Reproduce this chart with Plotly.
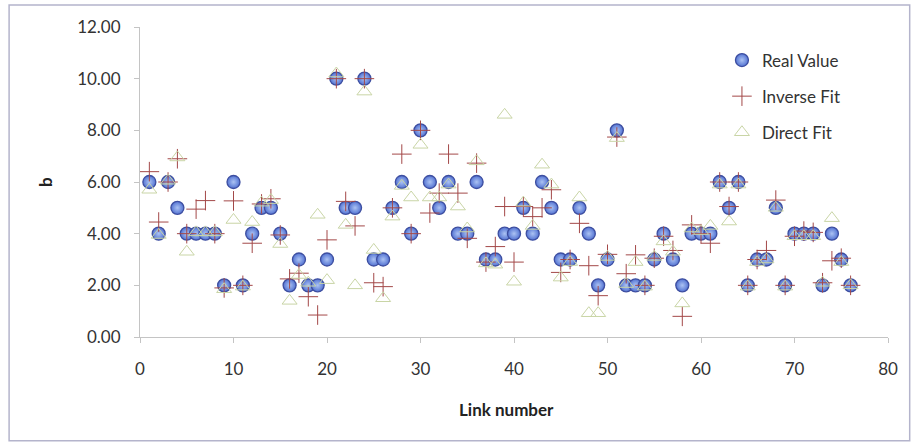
import plotly.graph_objects as go

link = list(range(1, 77))

real_value = [6, 4, 6, 5, 4, 4, 4, 4, 2, 6,
              2, 4, 5, 5, 4, 2, 3, 2, 2, 3,
              10, 5, 5, 10, 3, 3, 5, 6, 4, 8,
              6, 5, 6, 4, 4, 6, 3, 3, 4, 4,
              5, 4, 6, 5, 3, 3, 5, 4, 2, 3,
              8, 2, 2, 2, 3, 4, 3, 2, 4, 4,
              4, 6, 5, 6, 2, 3, 3, 5, 2, 4,
              4, 4, 2, 4, 3, 2]

inverse_fit = [6.4, 4.45, 6.0, 6.9, 4.0, 4.95, 5.28, 4.0, 1.9, 5.27,
               2.0, 3.63, 5.15, 5.35, 3.95, 2.25, 2.47, 1.56, 0.85, 3.76,
               10.0, 5.25, 4.3, 10.0, 2.1, 1.95, 5.0, 7.08, 4.0, 8.0,
               4.8, 5.57, 7.08, 5.57, 3.82, 6.73, 2.9, 3.5, 5.05, 2.9,
               5.05, 4.66, 5.0, 5.7, 2.5, 3.0, 4.4, 2.76, 1.6, 3.2,
               7.74, 2.45, 3.18, 2.0, 3.05, 3.9, 3.35, 0.8, 4.34, 4.0,
               3.63, 6.0, 5.05, 6.0, 2.0, 3.0, 3.35, 5.3, 2.0, 3.9,
               4.1, 4.05, 2.1, 2.95, 3.05, 2.0]

direct_fit = [5.7, 3.95, 6.05, 6.95, 3.3, 4.05, 4.05, 4.05, 1.85, 4.53,
              1.95, 4.45, 5.2, 5.3, 3.6, 1.4, 2.4, 2.1, 4.73, 2.2,
              10.2, 4.34, 2.0, 9.5, 3.37, 1.5, 4.66, 5.85, 5.4, 7.44,
              5.4, 5.4, 5.9, 5.05, 4.2, 6.8, 2.85, 2.8, 8.6, 2.14,
              5.2, 4.3, 6.67, 5.9, 2.3, 2.9, 5.4, 0.92, 0.92, 3.1,
              7.7, 2.05, 2.9, 1.95, 3.1, 3.7, 3.3, 1.3, 4.2, 4.1,
              4.3, 5.9, 4.47, 5.9, 1.95, 2.9, 3.0, 5.0, 1.95, 3.9,
              3.9, 3.9, 2.1, 4.6, 2.9, 2.0]

x_ticks = [0, 10, 20, 30, 40, 50, 60, 70, 80]
y_ticks = [0, 2, 4, 6, 8, 10, 12]

FONT = "Lato, 'Open Sans', sans-serif"

fig = go.Figure()
fig.add_trace(go.Scatter(
    x=link, y=real_value, mode="markers", name="Real Value",
    legendgroup="a",
    marker=dict(symbol="circle", size=13, color="#5272d2",
                gradient=dict(type="radial", color="#acc3f3"),
                line=dict(color="#3d4ea0", width=1.3))))
fig.add_trace(go.Scatter(
    x=link, y=inverse_fit, mode="markers", name="Inverse Fit",
    legendgroup="b",
    marker=dict(symbol="cross-thin", size=14,
                line=dict(color="#a34848", width=1.0))))
fig.add_trace(go.Scatter(
    x=link, y=direct_fit, mode="markers", name="Direct Fit",
    legendgroup="c",
    marker=dict(symbol="triangle-up-open", size=13, color="#c9d5a6",
                line=dict(color="#c9d5a6", width=1.0))))

fig.update_layout(
    width=913, height=446,
    margin=dict(l=140, r=25, t=27, b=109),
    paper_bgcolor="white", plot_bgcolor="white",
    font=dict(family=FONT, size=17, color="#333333"),
    showlegend=True,
    legend=dict(x=0.778, y=0.95, xanchor="left", yanchor="top",
                bgcolor="rgba(0,0,0,0)", tracegroupgap=11,
                traceorder="grouped",
                font=dict(family=FONT, size=17, color="#333333")),
    xaxis=dict(range=[0, 80], tickvals=x_ticks, ticktext=[str(v) for v in x_ticks],
               showgrid=False, zeroline=False, showline=True,
               linecolor="#c4c4c4", linewidth=1, ticks="outside", ticklen=5,
               tickcolor="#c4c4c4", ticklabelstandoff=12),
    yaxis=dict(range=[0, 12], tickvals=y_ticks,
               ticktext=["%.2f" % v for v in y_ticks],
               showgrid=False, zeroline=False, showline=True,
               linecolor="#c4c4c4", linewidth=1, ticks="outside", ticklen=5,
               tickcolor="#c4c4c4", ticklabelstandoff=10),
    annotations=[
        dict(text="<b>b</b>", xref="paper", yref="paper", x=-0.127, y=0.5,
             textangle=-90, showarrow=False, xanchor="center", yanchor="middle",
             font=dict(family=FONT, size=17, color="#222222")),
        dict(text="<b>Link number</b>", xref="paper", yref="paper", x=0.49, y=-0.235,
             showarrow=False, xanchor="center", yanchor="middle",
             font=dict(family=FONT, size=17, color="#222222")),
    ],
    shapes=[dict(type="rect", xref="paper", yref="paper",
                 x0=-0.175, x1=1.029, y0=-0.335, y1=1.071,
                 line=dict(color="#b4b4cc", width=1.5), layer="below")],
)

fig.write_html("out.html")
